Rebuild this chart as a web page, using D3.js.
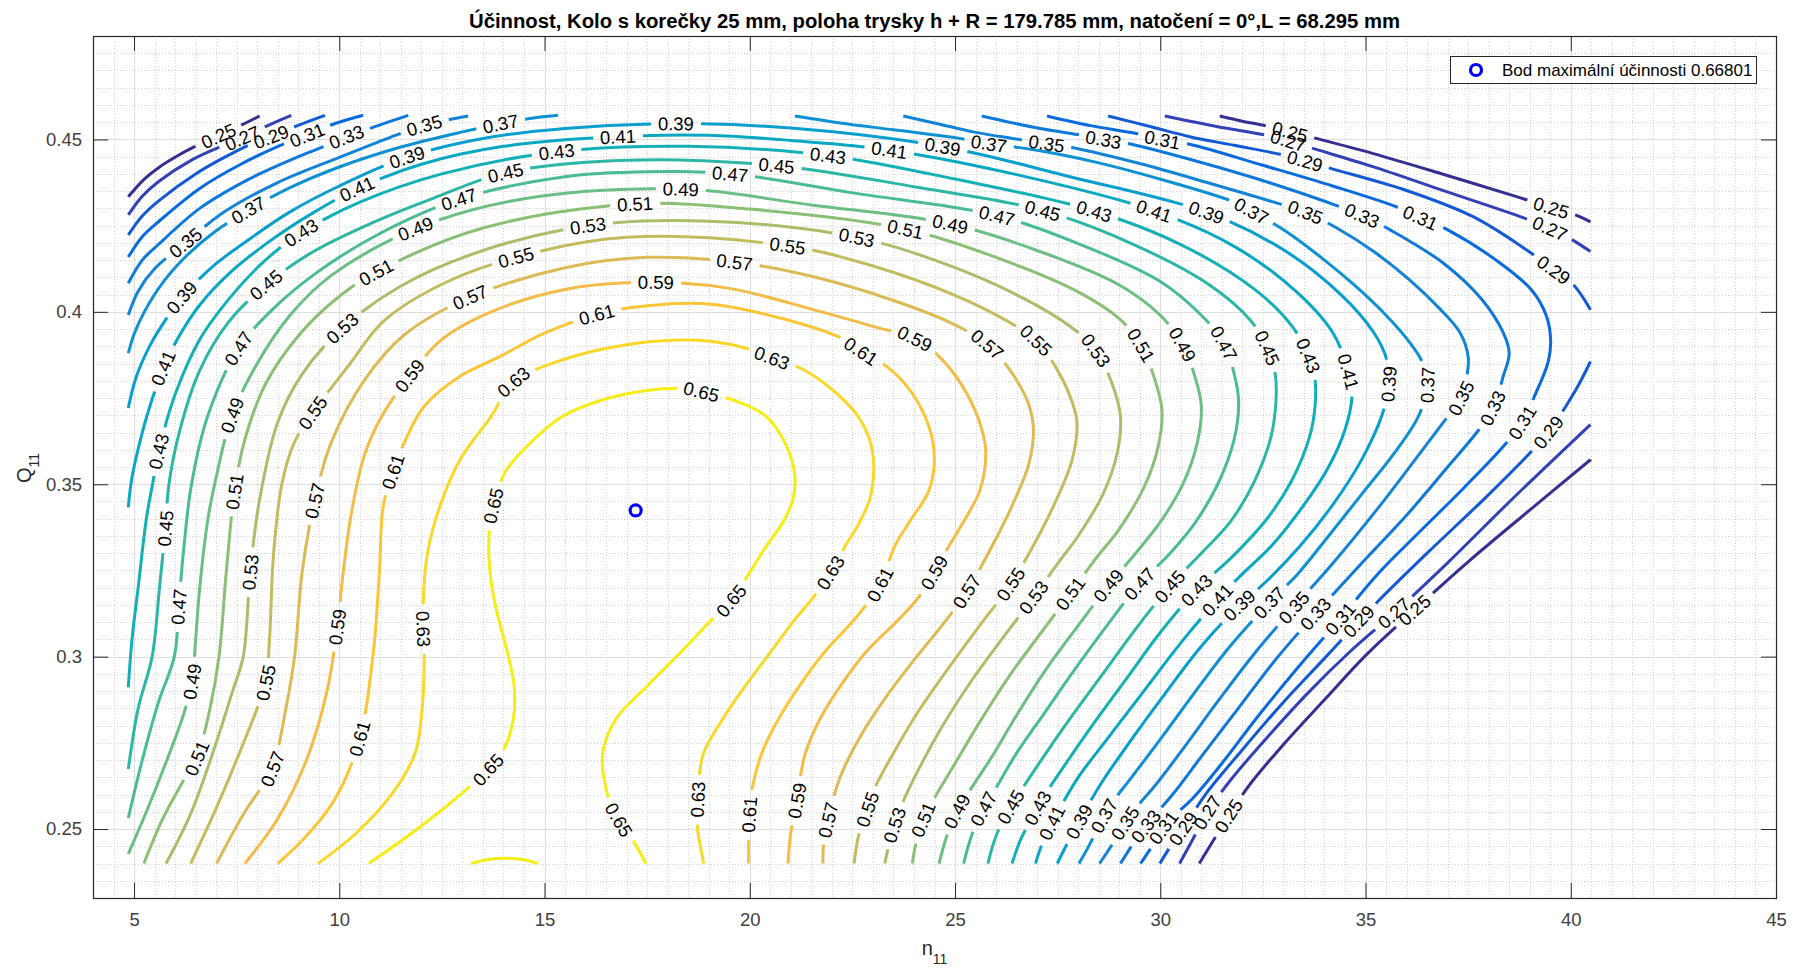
<!DOCTYPE html>
<html lang="cs">
<head>
<meta charset="utf-8">
<title>Účinnost – Kolo s korečky 25 mm</title>
<script src="https://cdn.jsdelivr.net/npm/d3@7/dist/d3.min.js"></script>
<style>
  html, body { margin: 0; padding: 0; background: #fff; }
  svg { display: block; font-family: "Liberation Sans", Arial, Helvetica, sans-serif; }
</style>
</head>
<body>
<svg id="chart" width="1802" height="970"></svg>
<script>
// ---------------- data ----------------
const nRange = [4, 45];
const qRange = [0.23, 0.48];
const nTicks = [5, 10, 15, 20, 25, 30, 35, 40, 45];
const qTicks = [0.25, 0.3, 0.35, 0.4, 0.45];

const levels = [0.25, 0.27, 0.29, 0.31, 0.33, 0.35, 0.37, 0.39, 0.41, 0.43, 0.45,
                0.47, 0.49, 0.51, 0.53, 0.55, 0.57, 0.59, 0.61, 0.63, 0.65];

// iso-efficiency lines, each level = list of pieces, each piece = [n11, Q11] points
const iso25 = [
  [[4.86,.4334],[5.25,.4385],[5.63,.4421],[6.05,.4452],[6.44,.4477],[7.05,.4510],[7.62,.4542],[8.06,.4568]],
  [[31.45,.4568],[32.0,.4553],[32.59,.4539],[33.2,.4521],[33.8,.4503],[35.19,.4459],[36.81,.4402],[38.68,.4334],[39.51,.4303],[40.11,.4281],[40.48,.4261]],
  [[30.95,.2400],[31.3,.2468],[31.66,.2538],[32.2,.2632],[33.0,.2745],[34.0,.2875],[35.0,.3003],[36.21,.3137],[37.5,.3275],[39.0,.3425],[40.48,.3571]]
];
const iso27 = [
  [[4.86,.4281],[5.2,.4335],[5.6,.4378],[6.4,.4440],[7.17,.4482],[7.66,.4505],[8.27,.4541],[8.83,.4570]],
  [[30.11,.4568],[31.4,.4537],[32.75,.4508],[33.8,.4471],[35.18,.4421],[36.81,.4355],[38.84,.4273],[39.43,.4245],[39.95,.4215],[40.48,.4175]],
  [[30.47,.2400],[30.8,.2472],[31.15,.2549],[31.7,.2640],[32.6,.2765],[33.6,.2895],[34.6,.3012],[35.7,.3127],[37.0,.3272],[38.6,.3460],[40.48,.3673]]
];
const iso29 = [
  [[4.86,.4223],[5.2,.4278],[5.6,.4322],[6.5,.4400],[7.2,.4448],[7.82,.4485],[8.35,.4508],[9.0,.4541],[9.65,.4570]],
  [[28.73,.4568],[29.8,.4536],[30.72,.4508],[31.8,.4483],[32.91,.4457],[33.52,.4438],[34.21,.4414],[36.0,.4352],[37.62,.4276],[38.87,.4184],[39.56,.4124],[40.07,.4078],[40.48,.4006]],
  [[29.99,.2400],[30.25,.2450],[30.55,.2500],[31.1,.2600],[32.0,.2730],[33.0,.2868],[34.0,.2995],[34.84,.3103],[35.3,.3160],[36.5,.3300],[38.0,.3470],[39.04,.3595],[39.47,.3653],[39.9,.3730],[40.2,.3790],[40.48,.3856]]
];
const iso31 = [
  [[4.86,.4159],[5.2,.4218],[5.6,.4262],[6.6,.4358],[7.6,.4428],[8.55,.4482],[9.2,.4512],[9.85,.4544],[10.58,.4570]],
  [[27.24,.4568],[28.3,.4540],[29.42,.4517],[30.03,.4500],[30.72,.4486],[32.5,.4425],[34.2,.4365],[35.79,.4303],[36.32,.4274],[36.97,.4240],[38.18,.4150],[39.04,.4064],[39.40,.3990],[39.51,.3919],[39.45,.3855],[39.13,.3759],[38.83,.3682],[38.36,.3610],[37.4,.3490],[36.3,.3360],[35.3,.3240],[34.37,.3108],[33.4,.2975],[32.4,.2830],[31.5,.2690],[30.8,.2590],[30.35,.2540],[30.09,.2506],[29.8,.2450],[29.52,.2400]]
];
const iso33 = [
  [[4.86,.4083],[5.2,.4150],[5.6,.4196],[6.6,.4300],[7.8,.4385],[9.0,.4450],[9.7,.4483],[10.17,.4507],[10.82,.4535],[11.68,.4570]],
  [[25.65,.4568],[26.4,.4548],[27.07,.4532],[28.0,.4514],[28.61,.4500],[29.3,.4486],[31.0,.4433],[32.7,.4373],[34.37,.4305],[34.9,.4280],[35.61,.4237],[36.9,.4141],[37.84,.4035],[38.36,.3938],[38.5,.3880],[38.36,.3815],[38.1,.3721],[37.76,.3658],[37.0,.3550],[36.0,.3410],[34.9,.3270],[33.77,.3123],[32.8,.2990],[31.9,.2850],[31.0,.2710],[30.3,.2600],[29.9,.2545],[29.63,.2506],[29.3,.2450],[29.03,.2400]]
];
const iso35 = [
  [[4.86,.3991],[5.1,.4060],[5.5,.4125],[6.24,.4199],[7.2,.4290],[8.5,.4375],[10.0,.4448],[11.0,.4495],[11.6,.4522],[12.08,.4541],[12.69,.4558],[13.14,.4568]],
  [[23.74,.4568],[24.6,.4545],[25.44,.4522],[26.4,.4503],[27.23,.4488],[27.88,.4476],[29.5,.4430],[31.2,.4373],[32.91,.4313],[33.56,.4288],[34.3,.4243],[35.2,.4175],[36.1,.4090],[36.8,.4010],[37.3,.3940],[37.5,.3870],[37.45,.3800],[37.33,.3750],[36.9,.3680],[36.2,.3570],[35.3,.3430],[34.2,.3270],[33.25,.3142],[32.3,.3010],[31.4,.2870],[30.6,.2740],[29.9,.2630],[29.4,.2560],[29.13,.2515],[28.8,.2450],[28.52,.2400]]
];
const iso37 = [
  [[4.86,.3880],[5.0,.3935],[5.25,.4000],[5.7,.4085],[6.3,.4165],[7.0,.4235],[7.78,.4295],[8.8,.4360],[10.0,.4420],[11.5,.4478],[13.0,.4522],[13.95,.4546],[14.6,.4560],[15.33,.4570]],
  [[21.1,.4568],[22.2,.4548],[23.5,.4528],[25.12,.4503],[25.81,.4488],[26.46,.4478],[27.07,.4467],[28.5,.4432],[30.2,.4378],[31.77,.4320],[32.22,.4293],[33.04,.4235],[34.0,.4150],[34.8,.4070],[35.5,.3990],[36.05,.3915],[36.4,.3850],[36.51,.3789],[36.3,.3700],[35.7,.3590],[34.9,.3470],[34.1,.3350],[33.35,.3240],[32.66,.3157],[31.7,.3030],[30.8,.2890],[30.0,.2760],[29.3,.2650],[28.85,.2580],[28.63,.2538],[28.3,.2460],[28.02,.2400]]
];
const iso39 = [
  [[4.86,.3721],[5.05,.3810],[5.4,.3905],[5.9,.4000],[6.15,.4040],[6.9,.4130],[7.8,.4210],[8.8,.4290],[10.0,.4365],[11.63,.4448],[13.5,.4503],[15.5,.4532],[18.18,.4546],[21.0,.4533],[24.71,.4479],[27.8,.4392],[31.13,.4288],[33.0,.4180],[34.4,.4050],[35.2,.3940],[35.52,.3860],[35.57,.3793],[35.4,.3700],[34.9,.3570],[34.2,.3440],[33.4,.3320],[32.6,.3220],[31.91,.3147],[31.0,.3030],[30.1,.2890],[29.3,.2760],[28.6,.2640],[28.2,.2560],[28.02,.2520],[27.7,.2450],[27.49,.2400]]
];
const iso41 = [
  [[4.86,.3433],[4.95,.3520],[5.2,.3650],[5.45,.3750],[5.71,.3837],[6.1,.3930],[6.6,.4020],[7.4,.4120],[8.4,.4213],[9.4,.4290],[10.42,.4356],[12.0,.4428],[14.0,.4480],[16.8,.4508],[19.0,.4512],[21.0,.4497],[23.41,.4469],[26.5,.4398],[29.84,.4293],[31.8,.4190],[33.3,.4060],[34.2,.3940],[34.58,.3827],[34.67,.3755],[34.5,.3658],[34.1,.3550],[33.5,.3440],[32.7,.3320],[32.0,.3240],[31.4,.3166],[30.5,.3040],[29.6,.2900],[28.7,.2760],[28.0,.2650],[27.6,.2570],[27.36,.2519],[27.1,.2450],[26.96,.2400]]
];
const iso43 = [
  [[4.86,.2911],[4.95,.3050],[5.1,.3200],[5.3,.3400],[5.45,.3500],[5.6,.3595],[6.0,.3760],[6.6,.3920],[7.4,.4050],[8.2,.4150],[9.08,.4230],[10.5,.4318],[12.5,.4400],[15.29,.4464],[18.5,.4480],[21.91,.4453],[25.0,.4385],[28.37,.4293],[30.5,.4195],[32.3,.4065],[33.2,.3960],[33.6,.3875],[33.77,.3803],[33.77,.3726],[33.64,.3639],[33.2,.3510],[32.6,.3400],[31.8,.3295],[30.9,.3195],[30.0,.3070],[29.2,.2940],[28.4,.2810],[27.7,.2690],[27.25,.2610],[27.01,.2560],[26.6,.2470],[26.39,.2400]]
];
const iso45 = [
  [[4.86,.2674],[5.1,.2850],[5.44,.3000],[5.62,.3200],[5.76,.3369],[5.85,.3500],[6.1,.3650],[6.6,.3830],[7.3,.3970],[8.19,.4076],[9.3,.4170],[10.8,.4258],[12.3,.4330],[14.07,.4404],[17.0,.4440],[20.65,.4424],[24.0,.4363],[27.15,.4293],[29.3,.4198],[31.2,.4078],[32.2,.3975],[32.61,.3895],[32.8,.3820],[32.82,.3745],[32.7,.3639],[32.3,.3510],[31.7,.3390],[31.0,.3300],[30.24,.3205],[29.4,.3080],[28.6,.2950],[27.8,.2820],[27.1,.2700],[26.6,.2610],[26.35,.2563],[26.0,.2480],[25.80,.2400]]
];
const iso47 = [
  [[4.86,.2532],[5.2,.2700],[5.6,.2870],[5.98,.3000],[6.09,.3147],[6.2,.3300],[6.4,.3500],[6.8,.3700],[7.54,.3893],[8.4,.4010],[9.5,.4118],[11.0,.4228],[12.93,.4327],[15.5,.4392],[17.5,.4406],[19.52,.4400],[22.5,.4345],[26.01,.4279],[28.0,.4198],[30.0,.4088],[31.0,.3990],[31.55,.3909],[31.8,.3820],[31.91,.3740],[31.8,.3630],[31.4,.3500],[30.8,.3380],[30.2,.3295],[29.48,.3209],[28.7,.3090],[27.9,.2960],[27.2,.2840],[26.5,.2720],[26.0,.2620],[25.7,.2560],[25.4,.2480],[25.21,.2400]]
];
const iso49 = [
  [[4.86,.2428],[5.3,.2550],[5.8,.2700],[6.2,.2830],[6.41,.2925],[6.5,.3050],[6.6,.3200],[6.8,.3400],[7.0,.3520],[7.39,.3700],[8.0,.3850],[8.8,.3990],[9.8,.4105],[11.84,.4240],[14.5,.4328],[18.34,.4356],[21.5,.4310],[24.87,.4255],[27.0,.4178],[29.0,.4078],[30.0,.3990],[30.55,.3904],[30.85,.3810],[31.0,.3726],[30.9,.3620],[30.55,.3500],[30.0,.3390],[29.4,.3300],[28.73,.3205],[28.0,.3090],[27.2,.2960],[26.5,.2830],[25.9,.2710],[25.35,.2610],[25.04,.2550],[24.8,.2480],[24.61,.2400]]
];
const iso51 = [
  [[5.24,.2400],[5.7,.2530],[6.2,.2640],[6.52,.2703],[6.85,.2850],[7.07,.3000],[7.25,.3250],[7.45,.3480],[7.7,.3630],[8.2,.3790],[9.0,.3930],[9.9,.4035],[10.9,.4115],[13.5,.4243],[17.2,.4313],[20.0,.4298],[23.78,.4240],[26.0,.4158],[28.0,.4058],[29.0,.3980],[29.53,.3904],[29.85,.3810],[30.04,.3716],[29.95,.3610],[29.6,.3490],[29.0,.3370],[28.4,.3280],[27.82,.3185],[27.1,.3070],[26.3,.2940],[25.6,.2810],[25.0,.2690],[24.5,.2590],[24.23,.2529],[24.05,.2460],[23.96,.2400]]
];
const iso53 = [
  [[5.78,.2400],[6.4,.2550],[7.0,.2750],[7.4,.2900],[7.66,.3000],[7.83,.3243],[8.05,.3450],[8.5,.3680],[9.1,.3820],[10.05,.3950],[11.5,.4075],[13.5,.4178],[16.07,.4250],[19.0,.4263],[22.6,.4216],[25.0,.4128],[27.0,.4018],[28.0,.3940],[28.42,.3890],[28.8,.3800],[29.03,.3697],[28.95,.3590],[28.6,.3470],[28.0,.3350],[27.5,.3270],[26.91,.3171],[26.2,.3060],[25.4,.2930],[24.7,.2800],[24.1,.2670],[23.7,.2570],[23.53,.2514],[23.4,.2460],[23.29,.2400]]
];
const iso55 = [
  [[6.38,.2400],[7.0,.2560],[7.6,.2730],[8.0,.2850],[8.21,.2925],[8.3,.3050],[8.4,.3300],[8.6,.3500],[8.9,.3620],[9.35,.3707],[10.2,.3840],[11.1,.3975],[12.5,.4080],[14.31,.4158],[17.0,.4216],[20.9,.4192],[23.0,.4133],[25.0,.4048],[26.2,.3978],[26.96,.3919],[27.5,.3830],[27.85,.3740],[27.97,.3678],[27.85,.3570],[27.45,.3450],[26.9,.3320],[26.35,.3209],[25.6,.3090],[24.8,.2960],[24.1,.2840],[23.5,.2720],[23.05,.2620],[22.87,.2558],[22.65,.2480],[22.54,.2400]]
];
const iso57 = [
  [[7.01,.2400],[7.7,.2550],[8.1,.2620],[8.37,.2674],[8.7,.2850],[8.91,.3000],[9.1,.3250],[9.4,.3451],[9.8,.3620],[10.6,.3800],[11.6,.3935],[13.18,.4042],[15.5,.4128],[17.5,.4158],[19.64,.4144],[21.5,.4103],[23.5,.4033],[24.9,.3968],[25.8,.3904],[26.4,.3820],[26.8,.3730],[26.91,.3658],[26.8,.3560],[26.4,.3440],[25.9,.3320],[25.29,.3190],[24.8,.3108],[24.0,.2990],[23.3,.2880],[22.7,.2770],[22.2,.2650],[21.91,.2529],[21.8,.2460],[21.78,.2400]]
];
const iso59 = [
  [[7.70,.2400],[8.5,.2530],[9.2,.2700],[9.7,.2900],[9.95,.3085],[10.1,.3250],[10.3,.3420],[10.6,.3580],[11.0,.3690],[11.69,.3811],[12.5,.3920],[13.6,.3995],[15.5,.4065],[17.69,.4086],[19.5,.4068],[21.5,.4008],[23.0,.3958],[24.03,.3922],[24.7,.3860],[25.3,.3760],[25.65,.3660],[25.75,.3591],[25.6,.3480],[25.24,.3398],[24.8,.3310],[24.49,.3243],[24.1,.3170],[23.63,.3108],[22.82,.3012],[22.21,.2915],[21.71,.2819],[21.36,.2722],[21.25,.2664],[21.15,.2582],[21.0,.2490],[20.93,.2400]]
];
const iso61 = [
  [[8.50,.2400],[9.13,.2471],[9.79,.2567],[10.2,.2660],[10.49,.2761],[10.65,.2848],[10.75,.2935],[10.87,.3060],[10.98,.3253],[11.07,.3436],[11.31,.3537],[11.58,.3620],[12.07,.3726],[12.94,.3813],[13.92,.3871],[15.0,.3938],[16.29,.3993],[17.5,.4018],[19.0,.4023],[20.9,.3977],[22.32,.3919],[22.72,.3885],[23.33,.3842],[23.83,.3784],[24.23,.3707],[24.45,.3629],[24.49,.3552],[24.34,.3475],[23.93,.3398],[23.53,.3320],[23.17,.3209],[22.6,.3115],[21.81,.3012],[21.21,.2915],[20.7,.2819],[20.3,.2722],[20.07,.2625],[19.99,.2543],[19.97,.2471],[19.97,.2400]]
];
const iso63 = [
  [[9.48,.2400],[10.43,.2490],[11.31,.2606],[11.85,.2722],[12.03,.2867],[12.07,.3000],[12.04,.3147],[12.15,.3301],[12.45,.3436],[12.94,.3571],[13.70,.3697],[14.24,.3796],[15.44,.3861],[16.96,.3904],[18.3,.3918],[19.08,.3914],[19.89,.3895],[20.55,.3866],[21.31,.3832],[22.01,.3774],[22.62,.3700],[22.92,.3629],[23.02,.3552],[22.92,.3456],[22.62,.3378],[22.32,.3320],[21.96,.3243],[21.51,.3166],[21.1,.3108],[20.5,.3012],[19.89,.2915],[19.34,.2819],[18.88,.2722],[18.78,.2665],[18.73,.2587],[18.72,.2509],[18.88,.2400]]
];
const iso65 = [
  [[10.72,.2400],[11.96,.2505],[13.16,.2621],[13.64,.2674],[14.03,.2737],[14.24,.2819],[14.26,.2915],[14.1,.3010],[13.9,.3100],[13.72,.3200],[13.64,.3320],[13.72,.3420],[14.03,.3533],[14.57,.3610],[15.44,.3697],[16.42,.3745],[17.5,.3772],[18.37,.3778],[19.03,.3762],[19.69,.3740],[20.4,.3697],[20.9,.3610],[21.1,.3523],[21.05,.3456],[20.8,.3388],[20.4,.3320],[19.94,.3233],[19.54,.3161],[19.08,.3108],[18.38,.3020],[17.5,.2915],[16.74,.2819],[16.42,.2722],[16.52,.2606],[16.8,.2529],[17.18,.2462],[17.47,.2400]],
  [[13.21,.2400],[13.6,.2411],[14.03,.2415],[14.5,.2411],[14.84,.2400]]
];

// inline label anchors [n11, Q11] per level
const lab25 = [[7.05,.4508],[33.16,.4517],[39.51,.4305],[31.66,.2538],[36.21,.3137]];
const lab27 = [[7.66,.4500],[33.1,.4488],[39.43,.4232],[31.15,.2549],[35.7,.3127]];
const lab29 = [[8.35,.4503],[33.52,.4430],[39.56,.4121],[30.55,.2500],[34.84,.3103],[39.47,.3653]];
const lab31 = [[9.2,.4512],[30.03,.4498],[36.32,.4271],[38.83,.3682],[34.37,.3108],[30.09,.2506]];
const lab33 = [[10.17,.4512],[28.61,.4498],[34.9,.4281],[38.1,.3721],[33.77,.3123],[29.63,.2506]];
const lab35 = [[6.24,.4199],[12.08,.4541],[27.23,.4488],[33.56,.4290],[37.33,.3750],[33.25,.3142],[29.13,.2515]];
const lab37 = [[7.78,.4295],[13.95,.4546],[25.81,.4488],[32.22,.4295],[36.51,.3789],[32.66,.3157],[28.63,.2538]];
const lab39 = [[6.15,.4040],[11.63,.4450],[18.18,.4546],[24.71,.4479],[31.13,.4290],[35.57,.3793],[31.91,.3147],[28.02,.2520]];
const lab41 = [[5.71,.3837],[10.42,.4358],[16.8,.4508],[23.41,.4469],[29.84,.4295],[34.58,.3827],[31.4,.3166],[27.36,.2519]];
const lab43 = [[5.6,.3595],[9.08,.4232],[15.29,.4466],[21.91,.4455],[28.37,.4295],[33.6,.3875],[30.9,.3195],[27.01,.2560]];
const lab45 = [[5.76,.3369],[8.19,.4078],[14.07,.4406],[20.65,.4426],[27.15,.4295],[32.61,.3895],[30.24,.3205],[26.35,.2563]];
const lab47 = [[6.09,.3147],[7.54,.3895],[12.93,.4329],[19.52,.4402],[26.01,.4281],[31.55,.3909],[29.48,.3209],[25.7,.2560]];
const lab49 = [[6.41,.2925],[7.4,.3702],[11.84,.4242],[18.34,.4358],[24.87,.4257],[30.55,.3904],[28.73,.3205],[25.04,.2550]];
const lab51 = [[6.52,.2703],[7.5,.3480],[10.9,.4117],[17.2,.4315],[23.78,.4242],[29.53,.3904],[27.82,.3185],[24.23,.2529]];
const lab53 = [[7.83,.3243],[10.05,.3952],[16.07,.4252],[22.6,.4218],[28.42,.3890],[26.91,.3171],[23.53,.2514]];
const lab55 = [[8.21,.2925],[9.35,.3707],[14.31,.4160],[20.9,.4194],[26.96,.3919],[26.35,.3209],[22.87,.2558]];
const lab57 = [[8.37,.2674],[9.4,.3451],[13.18,.4044],[19.64,.4146],[25.8,.3904],[25.29,.3190],[21.91,.2529]];
const lab59 = [[9.95,.3085],[11.69,.3813],[17.69,.4088],[24.03,.3924],[24.49,.3243],[21.15,.2582]];
const lab61 = [[10.49,.2761],[11.31,.3537],[16.29,.3995],[22.72,.3885],[23.17,.3209],[19.99,.2543]];
const lab63 = [[12.03,.3080],[14.24,.3798],[20.55,.3866],[21.96,.3243],[18.73,.2587]];
const lab65 = [[13.64,.2674],[13.81,.3436],[18.8,.3765],[19.54,.3161],[16.8,.2529]];

const isoLines  = [iso25, iso27, iso29, iso31, iso33, iso35, iso37, iso39, iso41, iso43, iso45,
                   iso47, iso49, iso51, iso53, iso55, iso57, iso59, iso61, iso63, iso65];
const isoLabels = [lab25, lab27, lab29, lab31, lab33, lab35, lab37, lab39, lab41, lab43, lab45,
                   lab47, lab49, lab51, lab53, lab55, lab57, lab59, lab61, lab63, lab65];

// best efficiency point
const bestPoint = [17.22, 0.3424];
const bestEta = 0.66801;
const colorLimits = [0.245, 0.668];

// parula colour stops
const parula = ["#352a87", "#3243ba", "#0363e1", "#0d75dc", "#1485d4", "#0998d1", "#06a7c6", "#15b1b4",
                "#38b99e", "#65be86", "#92bf73", "#b7bd64", "#d9ba56", "#f8bb44", "#fcce2e", "#f5eb18", "#f9fb0e"];

// ---------------- layout ----------------
const svg = d3.select("#chart");
const X0 = 93, X1 = 1776, Y0 = 36, Y1 = 898;
const x = d3.scaleLinear().domain(nRange).range([X0, X1]);
const y = d3.scaleLinear().domain(qRange).range([Y1, Y0]);

const stopPos = parula.map((c, i) => i === parula.length - 1 ? 1 : (i * 4) / 63);
const cmap = d3.scaleLinear().domain(stopPos).range(parula).interpolate(d3.interpolateRgb);
const colorOf = v => cmap((v - colorLimits[0]) / (colorLimits[1] - colorLimits[0]));

svg.append("rect").attr("x", X0).attr("y", Y0).attr("width", X1 - X0).attr("height", Y1 - Y0).attr("fill", "#fff");

// grid
const grid = svg.append("g");
const minorN = d3.range(nRange[0] * 2, nRange[1] * 2 + 1).map(i => i / 2).filter(v => v % 5 !== 0);
const minorQ = d3.range(Math.round(qRange[0] * 200), Math.round(qRange[1] * 200) + 1).map(i => i / 200)
  .filter(v => !qTicks.some(t => Math.abs(t - v) < 1e-9));
const crisp = v => Math.round(v) + 0.5;

grid.selectAll("line.mx").data(minorN).join("line")
  .attr("x1", d => crisp(x(d))).attr("x2", d => crisp(x(d))).attr("y1", Y0).attr("y2", Y1)
  .attr("stroke", "#d2d2d2").attr("stroke-width", 1).attr("stroke-dasharray", "1,2");
grid.selectAll("line.my").data(minorQ).join("line")
  .attr("y1", d => crisp(y(d))).attr("y2", d => crisp(y(d))).attr("x1", X0).attr("x2", X1)
  .attr("stroke", "#d2d2d2").attr("stroke-width", 1).attr("stroke-dasharray", "1,2");
grid.selectAll("line.gx").data(nTicks).join("line")
  .attr("x1", d => crisp(x(d))).attr("x2", d => crisp(x(d))).attr("y1", Y0).attr("y2", Y1)
  .attr("stroke", "#dedede").attr("stroke-width", 1);
grid.selectAll("line.gy").data(qTicks).join("line")
  .attr("y1", d => crisp(y(d))).attr("y2", d => crisp(y(d))).attr("x1", X0).attr("x2", X1)
  .attr("stroke", "#dedede").attr("stroke-width", 1);

// contours
svg.append("clipPath").attr("id", "plotClip").append("rect")
  .attr("x", X0).attr("y", Y0).attr("width", X1 - X0).attr("height", Y1 - Y0);
const gC = svg.append("g").attr("clip-path", "url(#plotClip)");
const gL = svg.append("g").attr("font-size", 18.5).attr("fill", "#000");
const lineGen = d3.line().x(d => x(d[0])).y(d => y(d[1])).curve(d3.curveCatmullRom.alpha(0.5));
const fmt = d3.format(".2f");

levels.forEach((lv, i) => {
  const col = colorOf(lv);
  const pieces = isoLines[i].map(pts => {
    const p = gC.append("path").attr("d", lineGen(pts)).attr("fill", "none")
      .attr("stroke", col).attr("stroke-width", 3).attr("stroke-linejoin", "round");
    const node = p.node();
    const total = node.getTotalLength();
    const samples = [];
    for (let s = 0; s <= total; s += 2) { const pt = node.getPointAtLength(s); samples.push([s, pt.x, pt.y]); }
    return { p, node, total, samples, gaps: [] };
  });
  isoLabels[i].forEach(a => {
    const ax = x(a[0]), ay = y(a[1]);
    let best = null;
    pieces.forEach(pc => pc.samples.forEach(s => {
      const d = (s[1] - ax) ** 2 + (s[2] - ay) ** 2;
      if (!best || d < best.d) best = { d, pc, L: s[0] };
    }));
    const { pc, L } = best;
    const pA = pc.node.getPointAtLength(Math.max(0, L - 5));
    const pB = pc.node.getPointAtLength(Math.min(pc.total, L + 5));
    const pM = pc.node.getPointAtLength(L);
    let ang = Math.atan2(pB.y - pA.y, pB.x - pA.x) * 180 / Math.PI;
    if (ang > 90) ang -= 180;
    if (ang <= -90) ang += 180;
    const t = gL.append("text")
      .attr("transform", `translate(${pM.x.toFixed(2)},${pM.y.toFixed(2)}) rotate(${ang.toFixed(2)})`)
      .attr("text-anchor", "middle").attr("dy", "0.36em").text(fmt(lv));
    const w = t.node().getComputedTextLength();
    pc.gaps.push([L - w / 2 - 7, L + w / 2 + 7]);
  });
  pieces.forEach(pc => {
    if (!pc.gaps.length) return;
    pc.gaps.sort((a, b) => a[0] - b[0]);
    const arr = [];
    let pos = 0;
    pc.gaps.forEach(g => {
      const s = Math.max(g[0], pos), e = Math.max(g[1], s);
      arr.push(s - pos, e - s);
      pos = e;
    });
    arr.push(Math.max(pc.total - pos, 0) + 50, 0);
    pc.p.attr("stroke-dasharray", arr.map(v => v.toFixed(2)).join(" "));
  });
});

// best point marker
svg.append("circle").attr("cx", x(bestPoint[0])).attr("cy", y(bestPoint[1])).attr("r", 5.5)
  .attr("fill", "none").attr("stroke", "#0000ff").attr("stroke-width", 3.2);

// axes
const axisColor = "#262626";
function styleAxis(g) {
  g.select(".domain").remove();
  g.selectAll(".tick line").attr("stroke", axisColor).attr("stroke-width", 1);
  g.selectAll(".tick text").attr("fill", "#404040").attr("font-size", 18.5)
    .attr("font-family", '"Liberation Sans", Arial, sans-serif');
}
svg.append("g").attr("transform", `translate(0,${Y1})`)
  .call(d3.axisBottom(x).tickValues(nTicks).tickSizeInner(-15).tickSizeOuter(0).tickPadding(15).tickFormat(d3.format("d")))
  .call(styleAxis);
svg.append("g").attr("transform", `translate(${X0},0)`)
  .call(d3.axisLeft(y).tickValues(qTicks).tickSizeInner(-15).tickSizeOuter(0).tickPadding(11).tickFormat(d => String(d)))
  .call(styleAxis);
svg.append("g").attr("transform", `translate(0,${Y0})`)
  .call(d3.axisTop(x).tickValues(nTicks).tickSizeInner(-15).tickSizeOuter(0).tickFormat(""))
  .call(styleAxis);
svg.append("g").attr("transform", `translate(${X1},0)`)
  .call(d3.axisRight(y).tickValues(qTicks).tickSizeInner(-15).tickSizeOuter(0).tickFormat(""))
  .call(styleAxis);
svg.append("rect").attr("x", X0 + 0.5).attr("y", Y0 + 0.5).attr("width", X1 - X0).attr("height", Y1 - Y0)
  .attr("fill", "none").attr("stroke", axisColor).attr("stroke-width", 1.2);

// title
svg.append("text").attr("x", (X0 + X1) / 2).attr("y", 28).attr("text-anchor", "middle")
  .attr("font-size", 20.3).attr("font-weight", "bold").attr("fill", "#000")
  .text("Účinnost, Kolo s korečky 25 mm, poloha trysky h + R = 179.785 mm, natočení = 0°,L = 68.295 mm");

// axis labels
const xl = svg.append("text").attr("x", (X0 + X1) / 2).attr("y", 955).attr("text-anchor", "middle")
  .attr("font-size", 20).attr("fill", axisColor);
xl.append("tspan").text("n");
xl.append("tspan").attr("font-size", 14).attr("dy", 9).text("11");

const yl = svg.append("text").attr("transform", "translate(31,468) rotate(-90)").attr("text-anchor", "middle")
  .attr("font-size", 20).attr("fill", axisColor);
yl.append("tspan").text("Q");
yl.append("tspan").attr("font-size", 14).attr("dy", 8).text("11");

// legend
const lg = svg.append("g");
lg.append("rect").attr("x", 1450.5).attr("y", 56.5).attr("width", 306).attr("height", 27)
  .attr("fill", "#fff").attr("stroke", axisColor).attr("stroke-width", 1);
lg.append("circle").attr("cx", 1476).attr("cy", 70).attr("r", 5.5)
  .attr("fill", "none").attr("stroke", "#0000ff").attr("stroke-width", 3.2);
lg.append("text").attr("x", 1502).attr("y", 76).attr("font-size", 17).attr("fill", "#000")
  .text("Bod maximální účinnosti " + bestEta);
</script>
</body>
</html>
